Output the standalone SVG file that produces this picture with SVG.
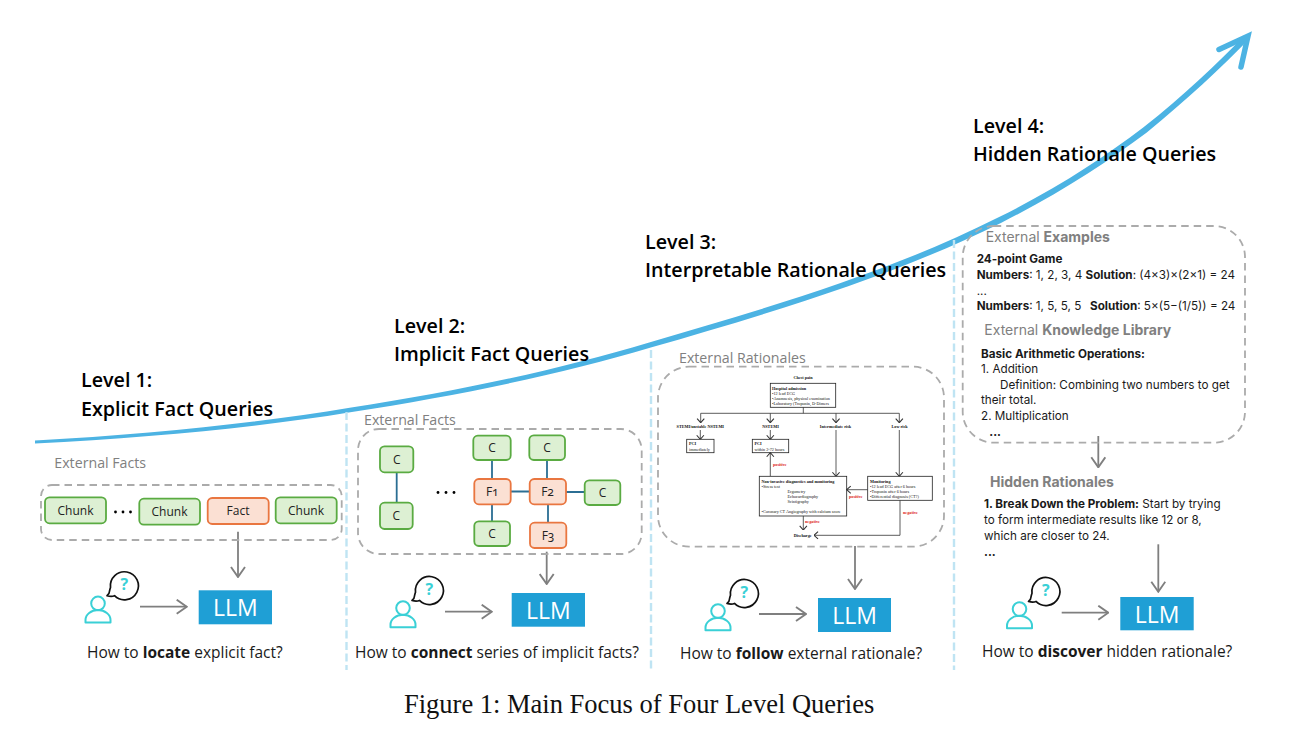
<svg xmlns="http://www.w3.org/2000/svg" width="1292" height="732" viewBox="0 0 1292 732">
<style>
text{font-family:"Open Sans","Noto Sans",sans-serif;fill:#111}
.lvl,.cap,.ext,.ext2,.body{transform:translateY(.8px)}
.lvl{font-size:19.700px;font-weight:600;fill:#000}
.cap{font-size:15.500px;fill:#1a1a1a}
.cap tspan{font-weight:700}
.ext{font-size:14.200px;fill:#808080}
.ext2{font-family:Inter,"Noto Sans",sans-serif;font-size:14px;fill:#808080}
.ext2 tspan,.hid{font-weight:700}
.body{font-family:Inter,"Noto Sans",sans-serif;font-size:11.700px;fill:#1a1a1a}
.body tspan,.b{font-weight:700}
.dash{fill:none;stroke:#ababab;stroke-width:1.800;stroke-dasharray:7.500 5}
.sep{fill:none;stroke:#bfe4f3;stroke-width:2.400;stroke-dasharray:8 3.500}
.g{fill:#ddf0d3;stroke:#5aab42;stroke-width:1.800}
.o{fill:#fbe0d3;stroke:#e97640;stroke-width:1.800}
.bt{font-size:12px;text-anchor:middle;fill:#222}
.oldn{font-variant-numeric:oldstyle-nums}
.link{stroke:#2b6e93;stroke-width:1.800;fill:none}
.arr{stroke:#7f7f7f;stroke-width:1.800;fill:none}
.llm{fill:#1f9fd5}
.llt{font-size:23px;fill:#fff;text-anchor:middle}
.fb{fill:#fff;stroke:#222;stroke-width:.8}
.fl{stroke:#333;stroke-width:.8;fill:none}
.ft{font-family:"Liberation Serif",serif;font-size:4.200px;fill:#111}
.fh{font-family:"Liberation Serif",serif;font-size:4.200px;font-weight:700;fill:#111}
.fr{font-family:"Liberation Serif",serif;font-size:4.200px;font-weight:700;fill:#d22}
</style>
<defs>
<g id="asker">
<circle cx="98" cy="603.400" r="6.800" fill="none" stroke="#3ad0d6" stroke-width="2"/>
<path d="M85.500 622.500V620a12 9.500 0 0 1 25 0v2.500z" fill="none" stroke="#3ad0d6" stroke-width="2" stroke-linejoin="round"/>
<path d="M110.500 587.500a14 14 0 1 1 4 8.200q-3 1.400-7.500 0q2.500-2 2.500-4.500q.4-2 1-3.700z" fill="none" stroke="#111" stroke-width="1.700" stroke-linejoin="round"/>
<text x="124.200" y="590" font-size="16" font-weight="700" text-anchor="middle" style="fill:#3ad0d6">?</text>
</g>
<marker id="ah" viewBox="0 0 10 10" refX="9.500" refY="5" markerWidth="9" markerHeight="9" markerUnits="userSpaceOnUse" orient="auto"><path d="M5 1L9.500 5L5 9" fill="none" stroke="#333" stroke-width="1.200"/></marker>
<marker id="gh" viewBox="0 0 12 16" refX="11" refY="8" markerWidth="12" markerHeight="16" markerUnits="userSpaceOnUse" orient="auto"><path d="M1 1L11 8L1 15" fill="none" stroke="#7f7f7f" stroke-width="1.900"/></marker>
</defs>

<g id="growth-curve">
<path fill="#4cb3e3" d="M35 440.500C150 434.200 259.700 422.800 349.700 407.700C459.600 391 559.300 369.400 649.200 342.400C769.300 307.300 889 272.500 998.600 217.300C1058.700 187.600 1103.400 157.700 1143.200 127.600C1183.400 95.700 1218 63 1243.800 35.900L1248.200 40.100C1222 67 1186.600 100.300 1146.800 132.400C1106.600 162.300 1061.300 192.400 1001.400 222.700C891 277.500 770.700 312.700 650.800 347.600C560.700 374.600 460.400 395 350.300 412.300C260.300 427.200 150 437.800 35 443.500Z"/>
<path d="M1219 49.500L1248 36L1241 67" fill="none" stroke="#4cb3e3" stroke-width="5.500" stroke-linecap="round"/>
</g>

<g id="separators">
<path class="sep" d="M346.500 412V670"/>
<path class="sep" d="M651 350V670"/>
<path class="sep" d="M954 240V670"/>
</g>

<g id="level-labels">
<text class="lvl" x="81" y="386">Level 1:</text><text class="lvl" x="81" y="415">Explicit Fact Queries</text>
<text class="lvl" x="394" y="332">Level 2:</text><text class="lvl" x="394" y="360">Implicit Fact Queries</text>
<text class="lvl" x="645" y="248">Level 3:</text><text class="lvl" x="645" y="276">Interpretable Rationale Queries</text>
<text class="lvl" x="973" y="132">Level 4:</text><text class="lvl" x="973" y="160">Hidden Rationale Queries</text>
</g>

<g id="connectors">
<path class="arr" marker-end="url(#gh)" d="M238 531.700V577"/>
<path class="arr" marker-end="url(#gh)" d="M140 606.700H186.700"/>
<path class="link" d="M396.700 472V503M492 460V479M492 504V521M511 491.500H530M547 460V479M566 492H585M548 504V523"/>
<path class="arr" marker-end="url(#gh)" d="M546.700 551.700V584"/>
<path class="arr" marker-end="url(#gh)" d="M445 611.700H491.700"/>
<path class="arr" marker-end="url(#gh)" d="M855 546V589"/>
<path class="arr" marker-end="url(#gh)" d="M759 614H806"/>
<path class="arr" marker-end="url(#gh)" d="M1098.300 436V467.300"/>
<path class="arr" marker-end="url(#gh)" d="M1158.300 544.300V591.700"/>
<path class="arr" marker-end="url(#gh)" d="M1061.700 612.700H1108.300"/>
</g>

<g id="panel-1">
<text class="ext" x="54.300" y="467">External Facts</text>
<rect class="dash" x="41" y="485" width="300.700" height="55" rx="11"/>
<g id="l1-chunk-a"><rect class="g" x="45" y="497.300" width="61" height="26" rx="4.500"/><text class="bt" x="75.500" y="514.500">Chunk</text></g>
<g id="l1-dots"><circle cx="115.500" cy="512" r="1.400"/><circle cx="123" cy="512" r="1.400"/><circle cx="130.500" cy="512" r="1.400"/></g>
<g id="l1-chunk-b"><rect class="g" x="139.300" y="498.700" width="60.700" height="26" rx="4.500"/><text class="bt" x="169.500" y="515.500">Chunk</text></g>
<g id="l1-fact"><rect class="o" x="207.700" y="498" width="61" height="26" rx="4.500"/><text class="bt" x="238" y="515">Fact</text></g>
<g id="l1-chunk-c"><rect class="g" x="275.700" y="497.300" width="61" height="26" rx="4.500"/><text class="bt" x="306" y="514.500">Chunk</text></g>
</g>
<g id="l1-user"><use href="#asker"/></g>
<g id="l1-llm"><rect class="llm" x="198.700" y="590.300" width="73.300" height="34"/><text class="llt" x="235.300" y="616">LLM</text></g>
<text class="cap" x="87" y="657">How to <tspan>locate</tspan> explicit fact?</text>

<g id="panel-2">
<text class="ext" x="364" y="424">External Facts</text>
<rect class="dash" x="358" y="429" width="283.700" height="125" rx="21"/>
<g id="l2-c1"><rect class="g" x="380" y="446.300" width="33.300" height="26" rx="4.500"/><text class="bt" x="396.700" y="463.500">C</text></g>
<g id="l2-c2"><rect class="g" x="380" y="502.700" width="32.700" height="26.300" rx="4.500"/><text class="bt" x="396.300" y="520">C</text></g>
<g id="l2-dots"><circle cx="438" cy="492.500" r="1.400"/><circle cx="446" cy="492.500" r="1.400"/><circle cx="454" cy="492.500" r="1.400"/></g>
<g id="l2-c3"><rect class="g" x="473.300" y="435.700" width="37.400" height="24.300" rx="4.500"/><text class="bt" x="492" y="452">C</text></g>
<g id="l2-f1"><rect class="o" x="474.300" y="479" width="36.400" height="25.300" rx="4.500"/><text class="bt oldn" x="492.300" y="496">F1</text></g>
<g id="l2-c4"><rect class="g" x="474.300" y="521.300" width="35.700" height="24.700" rx="4.500"/><text class="bt" x="492" y="538">C</text></g>
<g id="l2-c5"><rect class="g" x="529.300" y="435.300" width="35.700" height="24.700" rx="4.500"/><text class="bt" x="547" y="452">C</text></g>
<g id="l2-f2"><rect class="o" x="529.700" y="479" width="36.300" height="25.300" rx="4.500"/><text class="bt oldn" x="547.500" y="496">F2</text></g>
<g id="l2-f3"><rect class="o" x="530" y="522.700" width="36.300" height="25.300" rx="4.500"/><text class="bt oldn" x="548" y="540">F3</text></g>
<g id="l2-c6"><rect class="g" x="584.700" y="480.300" width="35.600" height="24.700" rx="4.500"/><text class="bt" x="602.500" y="497">C</text></g>
</g>
<g id="l2-user"><use href="#asker" x="305" y="4.700"/></g>
<g id="l2-llm"><rect class="llm" x="511.700" y="593" width="73.300" height="33.700"/><text class="llt" x="548.300" y="618.500">LLM</text></g>
<text class="cap" x="355" y="657">How to <tspan>connect</tspan> series of implicit facts?</text>

<g id="panel-3">
<text class="ext" x="679" y="362">External Rationales</text>
<rect class="dash" x="658" y="366.700" width="286" height="180" rx="31"/>
<g id="flowchart">
<text class="fh" x="803" y="378.500" text-anchor="middle">Chest pain</text>
<rect class="fb" x="770.300" y="383.300" width="65.400" height="24"/>
<text class="fh" x="772" y="389.500">Hospital admission</text>
<text class="ft" x="772" y="394.500">•12 lead ECG</text>
<text class="ft" x="772" y="399.500">•Anamnesis, physical examination</text>
<text class="ft" x="772" y="405">•Laboratory (Troponin, D-Dimers</text>
<path class="fl" d="M803.300 407.300V413.300M700.700 413.300H899.300"/>
<path class="fl" marker-end="url(#ah)" d="M700.700 413.300V422.700"/>
<path class="fl" marker-end="url(#ah)" d="M770.300 413.300V422.700"/>
<path class="fl" marker-end="url(#ah)" d="M836 413.300V422.700"/>
<path class="fl" marker-end="url(#ah)" d="M899.300 413.300V422.700"/>
<text class="fh" x="700.300" y="428" text-anchor="middle">STEMI/unstable NSTEMI</text>
<text class="fh" x="770.500" y="428" text-anchor="middle">NSTEMI</text>
<text class="fh" x="835.500" y="428" text-anchor="middle">Intermediate risk</text>
<text class="fh" x="899.500" y="428" text-anchor="middle">Low risk</text>
<path class="fl" marker-end="url(#ah)" d="M700.300 430V439.300"/>
<path class="fl" marker-end="url(#ah)" d="M770.300 430V439.300"/>
<path class="fl" marker-end="url(#ah)" d="M836 430V476.300"/>
<path class="fl" marker-end="url(#ah)" d="M899.300 430V476.300"/>
<rect class="fb" x="686.700" y="439.300" width="27.300" height="13.400"/>
<text class="fh" x="689" y="444.500">PCI</text><text class="ft" x="689" y="450.500">immediately</text>
<rect class="fb" x="752.300" y="439.300" width="36.400" height="13.400"/>
<text class="fh" x="754.500" y="444.500">PCI</text><text class="ft" x="754.500" y="450.500">within 2-72 hours</text>
<path class="fl" marker-end="url(#ah)" d="M770.300 476.300V452.700"/>
<text class="fr" x="773" y="465.500">positive</text>
<rect class="fb" x="759.300" y="476.300" width="87.400" height="39.700"/>
<text class="fh" x="761.500" y="482.500">Non-invasive diagnostics and monitoring</text>
<text class="ft" x="761.500" y="487.500">•Stress test</text>
<text class="ft" x="787.500" y="493">Ergometry</text>
<text class="ft" x="787.500" y="498">Echocardiography</text>
<text class="ft" x="787.500" y="503">Scintigraphy</text>
<text class="ft" x="761.500" y="513">•Coronary CT Angiography with calcium score</text>
<rect class="fb" x="867.700" y="476.300" width="64.600" height="24"/>
<text class="fh" x="870" y="482.500">Monitoring</text>
<text class="ft" x="870" y="487.500">•12 lead ECG after 6 hours</text>
<text class="ft" x="870" y="492.800">•Troponin after 6 hours</text>
<text class="ft" x="870" y="498">•Differential diagnosis (CT?)</text>
<path class="fl" marker-end="url(#ah)" d="M867.700 489.700H846.700"/>
<text class="fr" x="849" y="498">positive</text>
<path class="fl" marker-end="url(#ah)" d="M900 500.300V535.300H814"/>
<text class="fr" x="903" y="514">negative</text>
<path class="fl" marker-end="url(#ah)" d="M803.300 516V530"/>
<text class="fr" x="805" y="523">negative</text>
<text class="fh" x="802.700" y="536.500" text-anchor="middle">Discharge</text>
</g>
</g>
<g id="l3-user"><use href="#asker" x="620" y="7.700"/></g>
<g id="l3-llm"><rect class="llm" x="818" y="598" width="73" height="34"/><text class="llt" x="854.500" y="623.500">LLM</text></g>
<text class="cap" x="680" y="658">How to <tspan>follow</tspan> external rationale?</text>

<g id="panel-4">
<rect class="dash" x="962.700" y="226" width="282.300" height="216.700" rx="31"/>
<text class="ext2" x="985.700" y="241">External <tspan>Examples</tspan></text>
<text class="body b" x="976.700" y="262.300">24-point Game</text>
<text class="body" x="976.700" y="278"><tspan>Numbers</tspan>: 1, 2, 3, 4 <tspan>Solution</tspan>: (4×3)×(2×1) = 24</text>
<text class="body" x="976.700" y="294">...</text>
<text class="body" x="976.700" y="309.300"><tspan>Numbers</tspan>: 1, 5, 5, 5 <tspan x="1090">Solution</tspan>: 5×(5−(1/5)) = 24</text>
<text class="ext2" x="984.300" y="334">External <tspan>Knowledge Library</tspan></text>
<text class="body b" x="981" y="357.300">Basic Arithmetic Operations:</text>
<text class="body" x="981" y="372.700">1. Addition</text>
<text class="body" x="1000" y="388.300">Definition: Combining two numbers to get</text>
<text class="body" x="981" y="403.300">their total.</text>
<text class="body" x="981" y="419">2. Multiplication</text>
<text class="body b" x="989.300" y="435">...</text>
<text class="ext2 hid" x="990" y="486">Hidden Rationales</text>
<text class="body" x="984" y="507.300"><tspan>1. Break Down the Problem:</tspan> Start by trying</text>
<text class="body" x="984" y="523.300">to form intermediate results like 12 or 8,</text>
<text class="body" x="984" y="539">which are closer to 24.</text>
<text class="body b" x="984" y="555">...</text>
</g>
<g id="l4-user"><use href="#asker" x="921.500" y="5.700"/></g>
<g id="l4-llm"><rect class="llm" x="1120.300" y="597" width="73.400" height="33.300"/><text class="llt" x="1157" y="622.500">LLM</text></g>
<text class="cap" x="982" y="656.700">How to <tspan>discover</tspan> hidden rationale?</text>

<text id="figure-caption" x="404" y="713" style="font-family:'Liberation Serif',serif;font-size:26.500px;fill:#111">Figure 1: Main Focus of Four Level Queries</text>
</svg>
